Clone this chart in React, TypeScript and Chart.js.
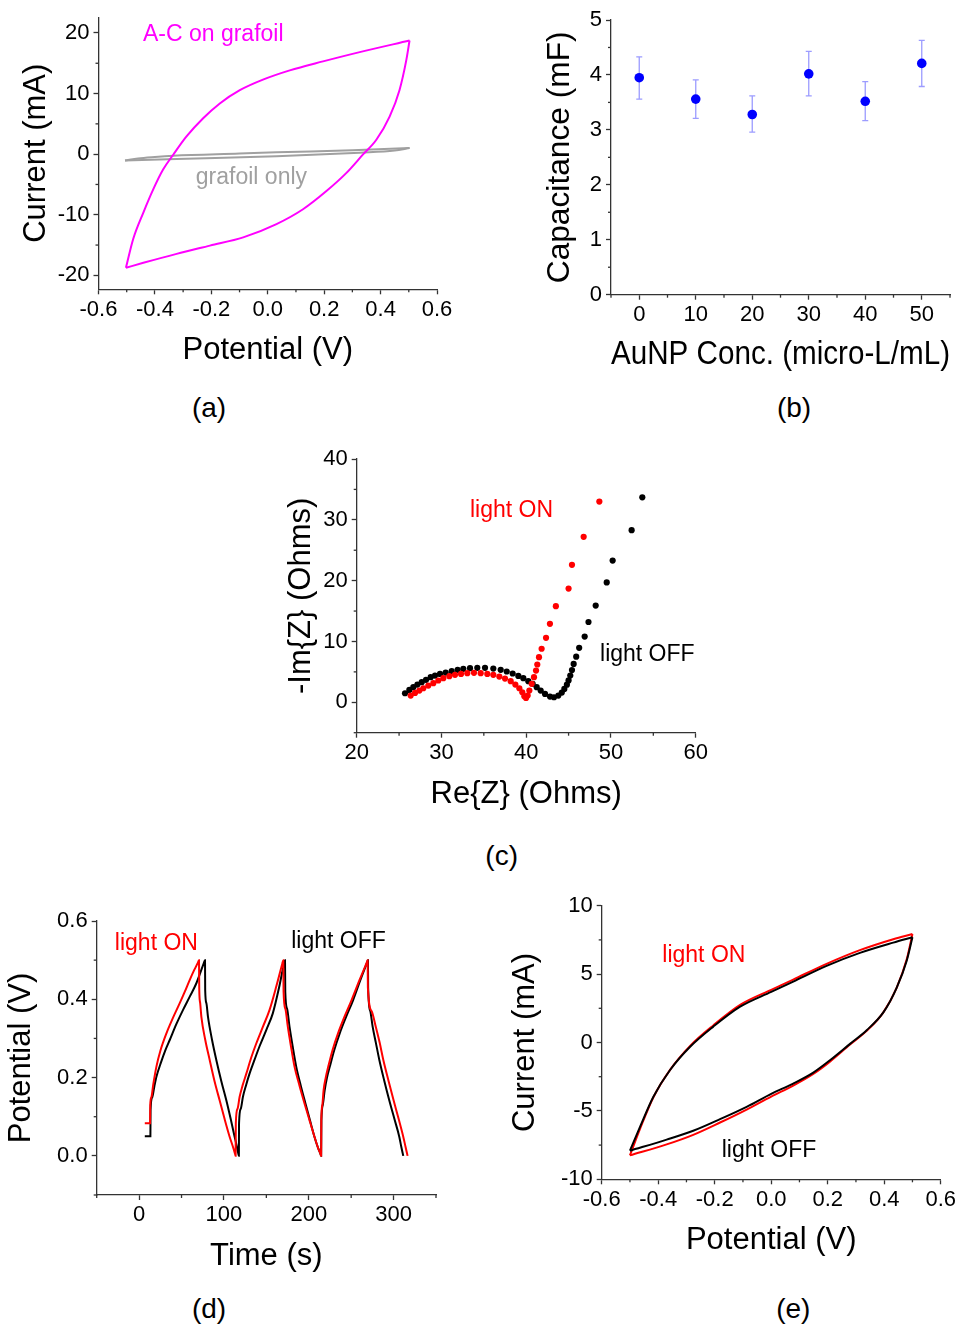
import React, { useEffect, useRef } from "react";
import { Chart, registerables } from "chart.js";
Chart.register(...registerables);

const FONT = "'Liberation Sans', Arial, Helvetica, sans-serif";

// ---------- Panel (a): CV, A-C on grafoil vs grafoil only ----------
const A_AC_UP_V = [-0.5027, -0.477, -0.441, -0.406, -0.371, -0.335, -0.288, -0.229, -0.17, -0.099, -0.017, 0.078, 0.196, 0.326, 0.5027];
const A_AC_UP_I = [-18.75, -14.0, -9.64, -5.81, -2.54, -0.09, 2.92, 5.92, 8.37, 10.56, 12.3, 13.83, 15.31, 16.84, 18.75];
const A_AC_LO_V = [-0.5027, -0.441, -0.323, -0.205, -0.087, 0.031, 0.125, 0.208, 0.279, 0.337, 0.385, 0.432, 0.467, 0.491, 0.5027];
const A_AC_LO_I = [-18.75, -17.93, -16.45, -15.09, -13.73, -11.54, -9.09, -6.09, -3.09, -0.09, 2.38, 6.19, 10.56, 15.47, 18.75];
const A_GF_UP_V = [-0.506, -0.46, -0.4, -0.335, -0.1, 0.031, 0.3, 0.5027];
const A_GF_UP_I = [-1.06, -0.7, -0.45, -0.25, 0.1, 0.3, 0.65, 1.0];
const A_GF_LO_V = [-0.506, -0.323, 0.031, 0.326, 0.45, 0.5027];
const A_GF_LO_I = [-1.06, -0.8, -0.35, 0.25, 0.6, 1.0];
const A_XTICKS = [-0.6, -0.4, -0.2, 0, 0.2, 0.4, 0.6];
const A_XMINOR = [-0.5, -0.3, -0.1, 0.1, 0.3, 0.5];
const A_YTICKS = [-20, -10, 0, 10, 20];
const A_YMINOR = [-15, -5, 5, 15];

// ---------- Panel (b): capacitance vs AuNP concentration ----------
const B_CONC = [0, 10, 20, 30, 40, 50];
const B_CAP = [3.95, 3.56, 3.28, 4.02, 3.52, 4.21];
const B_ERR_LOW = [3.56, 3.21, 2.96, 3.62, 3.17, 3.79];
const B_ERR_HIGH = [4.33, 3.91, 3.62, 4.43, 3.88, 4.63];
const B_XTICKS = [0, 10, 20, 30, 40, 50];
const B_XMINOR = [-5, 5, 15, 25, 35, 45, 55];
const B_YTICKS = [0, 1, 2, 3, 4, 5];
const B_YMINOR = [0.5, 1.5, 2.5, 3.5, 4.5];

// ---------- Panel (c): Nyquist ----------
const C_ON_RE = [26.37, 26.88, 27.39, 27.86, 28.45, 29.04, 29.63, 30.22, 30.93, 31.6, 32.31, 33.05, 33.84, 34.63, 35.41, 36.12,
  36.83, 37.5, 38.17, 38.72, 39.19, 39.54, 39.78, 39.98, 40.17, 40.37, 40.65, 40.92, 41.16, 41.31, 41.51, 41.82, 42.34, 42.8,
  43.5, 45.0, 45.4, 46.78, 48.63];
const C_ON_IM = [1.1, 1.54, 1.93, 2.31, 2.75, 3.14, 3.58, 3.96, 4.29, 4.51, 4.67, 4.78, 4.84, 4.78, 4.67, 4.51,
  4.23, 3.9, 3.47, 2.92, 2.31, 1.65, 0.99, 0.72, 1.1, 1.93, 3.03, 4.13, 5.22, 6.21, 7.42, 8.8, 10.6, 12.9,
  15.8, 18.7, 22.6, 27.2, 33.0];
const C_OFF_RE = [25.7, 26.21, 26.68, 27.16, 27.67, 28.18, 28.73, 29.24, 29.83, 30.5, 31.21, 31.91, 32.58, 33.37, 34.23, 35.14,
  36.12, 36.99, 37.7, 38.4, 39.07, 39.66, 40.25, 40.76, 41.24, 41.71, 42.22, 42.81, 43.28, 43.79, 44.2, 44.5, 44.8, 45.0,
  45.2, 45.4, 45.6, 45.9, 46.25, 46.9, 47.35, 48.2, 49.5, 50.2, 52.44, 53.7];
const C_OFF_IM = [1.49, 2.04, 2.48, 2.92, 3.3, 3.69, 4.13, 4.4, 4.67, 4.89, 5.11, 5.33, 5.5, 5.61, 5.66, 5.66,
  5.55, 5.33, 5.06, 4.73, 4.34, 3.96, 3.47, 3.03, 2.48, 1.93, 1.38, 0.94, 0.83, 1.1, 1.6, 2.2, 2.9, 3.6,
  4.4, 5.3, 6.3, 7.5, 8.96, 10.8, 13.2, 15.9, 19.7, 23.3, 28.3, 33.7];
const C_XTICKS = [20, 30, 40, 50, 60];
const C_XMINOR = [25, 35, 45, 55];
const C_YTICKS = [0, 10, 20, 30, 40];
const C_YMINOR = [-5, 5, 15, 25, 35];

// ---------- Panel (d): galvanostatic charge/discharge ----------
const D_ON_T = [6.7, 12.9, 13.1, 14.5, 16.5, 20.4, 25, 32.2, 40, 47.9, 54, 59.6, 65, 69.2, 70.6,
  70.9, 72, 73.4, 78, 83.2, 89, 94.9, 100.8, 106.7, 110.5, 113.0, 113.8,
  114.0, 116, 118.5, 122, 126.4, 132, 138.1, 146, 153.8, 162, 168.8, 170,
  170.3, 172.5, 175.3, 179, 183.2, 189, 195, 201, 206.7, 211, 213.8, 214.6,
  214.8, 216, 217.5, 220, 223, 228, 234.5, 242, 250.5, 260, 268.2, 269.4,
  269.7, 274, 279, 283.5, 287.9, 294, 300, 306, 311.4, 314, 316.5];
const D_ON_V = [0.083, 0.083, 0.13, 0.15, 0.18, 0.228, 0.268, 0.313, 0.353, 0.39, 0.42, 0.449, 0.475, 0.493, 0.5,
  0.425, 0.39, 0.355, 0.296, 0.245, 0.19, 0.142, 0.094, 0.049, 0.024, 0.006, 0.0,
  0.083, 0.12, 0.151, 0.18, 0.21, 0.25, 0.287, 0.33, 0.373, 0.435, 0.491, 0.5,
  0.42, 0.375, 0.33, 0.28, 0.228, 0.18, 0.134, 0.09, 0.049, 0.02, 0.005, 0.0,
  0.09, 0.13, 0.168, 0.2, 0.228, 0.27, 0.313, 0.355, 0.398, 0.45, 0.493, 0.5,
  0.43, 0.37, 0.33, 0.29, 0.245, 0.192, 0.142, 0.094, 0.049, 0.024, 0.0];
const D_OFF_T = [6.7, 13.3, 13.5, 15.5, 18, 20.4, 26, 31, 36.1, 44, 51.8, 60, 67.5, 76.4, 77.7,
  77.9, 79.3, 81.2, 86, 91, 97, 102.8, 108, 112.6, 115.2, 116.9, 117.6,
  117.8, 119.8, 122.4, 126, 130.2, 136, 142, 150, 157.6, 165, 170.8, 172,
  172.3, 174.5, 177.3, 181, 185.2, 190.5, 196.1, 201.5, 206.7, 211, 213.8, 214.6,
  214.9, 216.5, 218.8, 221.5, 224.8, 230, 236.5, 244, 252.3, 261, 268.6, 269.8,
  270.0, 272.5, 275.3, 279, 283.2, 289, 294.9, 301, 306.7, 309, 311.4];
const D_OFF_V = [0.05, 0.05, 0.117, 0.15, 0.178, 0.202, 0.24, 0.27, 0.296, 0.337, 0.373, 0.408, 0.441, 0.493, 0.5,
  0.423, 0.39, 0.355, 0.296, 0.245, 0.19, 0.142, 0.094, 0.049, 0.024, 0.006, 0.0,
  0.083, 0.12, 0.151, 0.18, 0.21, 0.245, 0.28, 0.322, 0.364, 0.43, 0.491, 0.5,
  0.42, 0.375, 0.33, 0.28, 0.228, 0.18, 0.134, 0.09, 0.049, 0.02, 0.005, 0.0,
  0.09, 0.13, 0.168, 0.2, 0.228, 0.27, 0.313, 0.355, 0.398, 0.45, 0.493, 0.5,
  0.43, 0.37, 0.33, 0.29, 0.245, 0.192, 0.142, 0.094, 0.049, 0.024, 0.0];
const D_XTICKS = [0, 100, 200, 300];
const D_XMINOR = [-50, 50, 150, 250, 350];
const D_YTICKS = [0, 0.2, 0.4, 0.6];
const D_YMINOR = [-0.1, 0.1, 0.3, 0.5];

// ---------- Panel (e): CV light ON / OFF (anodic = upper, cathodic = lower branch) ----------
const E_OFF_UP_V = [-0.5, -0.464, -0.417, -0.358, -0.287, -0.205, -0.11, 0.0, 0.078, 0.196, 0.314, 0.432, 0.5];
const E_OFF_UP_I = [-7.91, -6.15, -3.96, -2.01, -0.31, 1.16, 2.62, 3.7, 4.45, 5.6, 6.55, 7.3, 7.69];
const E_OFF_LO_V = [-0.5, -0.37, -0.276, -0.181, -0.087, 0.0, 0.078, 0.149, 0.208, 0.279, 0.338, 0.397, 0.444, 0.48, 0.5];
const E_OFF_LO_I = [-7.91, -7.1, -6.45, -5.6, -4.7, -3.75, -3.0, -2.2, -1.3, -0.1, 0.9, 2.2, 4.0, 6.0, 7.69];
const E_ON_UP_V = [-0.5, -0.464, -0.417, -0.358, -0.287, -0.205, -0.11, 0.0, 0.078, 0.196, 0.314, 0.432, 0.5];
const E_ON_UP_I = [-8.25, -6.3, -4.0, -2.0, -0.25, 1.25, 2.75, 3.85, 4.6, 5.75, 6.75, 7.55, 7.93];
const E_ON_LO_V = [-0.5, -0.37, -0.276, -0.181, -0.087, 0.0, 0.078, 0.149, 0.208, 0.279, 0.338, 0.397, 0.444, 0.48, 0.5];
const E_ON_LO_I = [-8.25, -7.45, -6.75, -5.85, -4.9, -3.95, -3.15, -2.3, -1.4, -0.15, 0.85, 2.2, 4.0, 6.1, 7.93];
const E_XTICKS = [-0.6, -0.4, -0.2, 0, 0.2, 0.4, 0.6];
const E_XMINOR = [-0.5, -0.3, -0.1, 0.1, 0.3, 0.5];
const E_YTICKS = [-10, -5, 0, 5, 10];
const E_YMINOR = [-7.5, -2.5, 2.5, 7.5];

// ---------- helpers ----------
const pts = (xs: number[], ys: number[]) => xs.map((x, i) => ({ x, y: ys[i] }));

type AxisSpec = { min: number; max: number; ticks: number[]; dec: number; title: string; size: number; pad: number; tsize?: number };

function axis(s: AxisSpec, isX: boolean): any {
  return {
    type: "linear",
    position: isX ? "bottom" : "left",
    min: s.min,
    max: s.max,
    afterBuildTicks: (sc: any) => {
      sc.ticks = s.ticks.map((v) => ({ value: v }));
    },
    afterFit: (sc: any) => {
      if (isX) sc.height = s.size;
      else sc.width = s.size;
    },
    ticks: {
      autoSkip: false,
      maxRotation: 0,
      minRotation: 0,
      padding: isX ? 2 : 4,
      color: "#000",
      font: { family: FONT, size: 22 },
      callback: (v: any) => Number(v).toFixed(s.dec),
    },
    grid: { drawOnChartArea: false, drawTicks: true, tickLength: 5, tickColor: "#333", tickWidth: 1.3, color: "#333" },
    border: { display: true, color: "#333", width: 1.3 },
    title: {
      display: true,
      text: s.title,
      color: "#000",
      font: { family: FONT, size: s.tsize ?? 31, lineHeight: 1.2 },
      padding: isX ? { top: 0, bottom: s.pad } : { top: s.pad, bottom: 0 },
    },
  };
}

function minorTicks(xs: number[], ys: number[]) {
  return {
    id: "minorTicks",
    afterDraw(chart: any) {
      const { ctx, chartArea } = chart;
      const sx = chart.scales.x;
      const sy = chart.scales.y;
      ctx.save();
      ctx.strokeStyle = "#333";
      ctx.lineWidth = 1.3;
      xs.forEach((v) => {
        const p = sx.getPixelForValue(v);
        ctx.beginPath();
        ctx.moveTo(p, chartArea.bottom);
        ctx.lineTo(p, chartArea.bottom + 3);
        ctx.stroke();
      });
      ys.forEach((v) => {
        const p = sy.getPixelForValue(v);
        ctx.beginPath();
        ctx.moveTo(chartArea.left, p);
        ctx.lineTo(chartArea.left - 3, p);
        ctx.stroke();
      });
      ctx.restore();
    },
  };
}

type Note = { text: string; x: number; y: number; color: string };
function notes(items: Note[]) {
  return {
    id: "notes",
    afterDatasetsDraw(chart: any) {
      const { ctx } = chart;
      ctx.save();
      ctx.font = `23px ${FONT}`;
      ctx.textAlign = "left";
      ctx.textBaseline = "alphabetic";
      items.forEach((it) => {
        ctx.fillStyle = it.color;
        ctx.fillText(it.text, chart.scales.x.getPixelForValue(it.x), chart.scales.y.getPixelForValue(it.y));
      });
      ctx.restore();
    },
  };
}

function errorBars(xs: number[], lo: number[], hi: number[]) {
  return {
    id: "errorBars",
    beforeDatasetsDraw(chart: any) {
      const { ctx } = chart;
      const sx = chart.scales.x;
      const sy = chart.scales.y;
      ctx.save();
      ctx.strokeStyle = "rgba(90,90,255,0.6)";
      ctx.lineWidth = 1.3;
      xs.forEach((xv, i) => {
        const px = sx.getPixelForValue(xv);
        const p1 = sy.getPixelForValue(lo[i]);
        const p2 = sy.getPixelForValue(hi[i]);
        ctx.beginPath();
        ctx.moveTo(px, p1);
        ctx.lineTo(px, p2);
        ctx.moveTo(px - 3, p1);
        ctx.lineTo(px + 3, p1);
        ctx.moveTo(px - 3, p2);
        ctx.lineTo(px + 3, p2);
        ctx.stroke();
      });
      ctx.restore();
    },
  };
}

const lineDs = (data: any[], color: string) => ({
  data,
  showLine: true,
  borderColor: color,
  backgroundColor: color,
  borderWidth: 2,
  pointRadius: 0,
  pointHoverRadius: 0,
  cubicInterpolationMode: "monotone",
  fill: false,
});

const dotDs = (data: any[], color: string, r: number) => ({
  data,
  showLine: false,
  backgroundColor: color,
  borderColor: color,
  borderWidth: 0,
  pointRadius: r,
  pointHoverRadius: r,
});

function baseOptions(padding: any, x: any, y: any): any {
  return {
    animation: false,
    responsive: false,
    maintainAspectRatio: false,
    layout: { padding },
    plugins: { legend: { display: false }, tooltip: { enabled: false } },
    events: [],
    scales: { x, y },
  };
}

// ---------- configs ----------
const buildA = (): any => ({
  type: "scatter",
  data: {
    datasets: [
      lineDs(pts(A_AC_UP_V, A_AC_UP_I), "#ff00ff"),
      lineDs(pts(A_AC_LO_V, A_AC_LO_I), "#ff00ff"),
      lineDs(pts(A_GF_UP_V, A_GF_UP_I), "#a0a0a0"),
      lineDs(pts(A_GF_LO_V, A_GF_LO_I), "#a0a0a0"),
    ],
  },
  options: baseOptions(
    { left: 0, right: 43, top: 15, bottom: 0 },
    axis({ min: -0.6, max: 0.6, ticks: A_XTICKS, dec: 1, title: "Potential (V)", size: 90.7, pad: 10.6 }, true),
    axis({ min: -22.3, max: 22.6, ticks: A_YTICKS, dec: 0, title: "Current (mA)", size: 98.5, pad: 17.9 }, false)
  ),
  plugins: [
    minorTicks(A_XMINOR, A_YMINOR),
    notes([
      { text: "A-C on grafoil", x: -0.4425, y: 18.75, color: "#ff00ff" },
      { text: "grafoil only", x: -0.255, y: -4.89, color: "#a0a0a0" },
    ]),
  ],
});

const buildB = (): any => ({
  type: "scatter",
  data: { datasets: [dotDs(pts(B_CONC, B_CAP), "#0000ff", 4.8)] },
  options: baseOptions(
    { left: 0, right: 10, top: 20, bottom: 0 },
    axis({ min: -5, max: 55, ticks: B_XTICKS, dec: 0, title: "AuNP Conc. (micro-L/mL)", size: 85.3, pad: 5.4, tsize: 32.7 }, true),
    axis({ min: 0, max: 5, ticks: B_YTICKS, dec: 0, title: "Capacitance (mF)", size: 131, pad: 61.4, tsize: 31.7 }, false)
  ),
  plugins: [minorTicks(B_XMINOR, B_YMINOR), errorBars(B_CONC, B_ERR_LOW, B_ERR_HIGH)],
});

const buildC = (): any => ({
  type: "scatter",
  data: {
    datasets: [dotDs(pts(C_ON_RE, C_ON_IM), "#ff0000", 3.1), dotDs(pts(C_OFF_RE, C_OFF_IM), "#000000", 3.1)],
  },
  options: baseOptions(
    { left: 0, right: 44.3, top: 19, bottom: 0 },
    axis({ min: 20, max: 60, ticks: C_XTICKS, dec: 0, title: "Re{Z} (Ohms)", size: 87.3, pad: 7.4 }, true),
    axis({ min: -5, max: 40, ticks: C_YTICKS, dec: 0, title: "-Im{Z} (Ohms)", size: 116.7, pad: 42.7 }, false)
  ),
  plugins: [
    minorTicks(C_XMINOR, C_YMINOR),
    notes([
      { text: "light ON", x: 33.37, y: 30.48, color: "#ff0000" },
      { text: "light OFF", x: 48.71, y: 6.87, color: "#000000" },
    ]),
  ],
});

const buildD = (): any => ({
  type: "scatter",
  data: {
    datasets: [lineDs(pts(D_ON_T, D_ON_V), "#ff0000"), lineDs(pts(D_OFF_T, D_OFF_V), "#000000")],
  },
  options: baseOptions(
    { left: 0, right: 44, top: 31, bottom: 0 },
    axis({ min: -50, max: 350, ticks: D_XTICKS, dec: 0, title: "Time (s)", size: 85, pad: 4.7 }, true),
    axis({ min: -0.1, max: 0.6, ticks: D_YTICKS, dec: 1, title: "Potential (V)", size: 96.7, pad: 3.1 }, false)
  ),
  plugins: [
    minorTicks(D_XMINOR, D_YMINOR),
    notes([
      { text: "light ON", x: -28.6, y: 0.526, color: "#ff0000" },
      { text: "light OFF", x: 179.3, y: 0.53, color: "#000000" },
    ]),
  ],
});

const buildE = (): any => ({
  type: "scatter",
  data: {
    datasets: [
      lineDs(pts(E_OFF_UP_V, E_OFF_UP_I), "#000000"),
      lineDs(pts(E_OFF_LO_V, E_OFF_LO_I), "#000000"),
      lineDs(pts(E_ON_UP_V, E_ON_UP_I), "#ff0000"),
      lineDs(pts(E_ON_LO_V, E_ON_LO_I), "#ff0000"),
    ],
  },
  options: baseOptions(
    { left: 0, right: 19.3, top: 25.7, bottom: 0 },
    axis({ min: -0.6, max: 0.6, ticks: E_XTICKS, dec: 1, title: "Potential (V)", size: 90.7, pad: 10.6 }, true),
    axis({ min: -10, max: 10, ticks: E_YTICKS, dec: 0, title: "Current (mA)", size: 121.7, pad: 27.2 }, false)
  ),
  plugins: [
    minorTicks(E_XMINOR, E_YMINOR),
    notes([
      { text: "light ON", x: -0.3855, y: 5.91, color: "#ff0000" },
      { text: "light OFF", x: -0.175, y: -8.35, color: "#000000" },
    ]),
  ],
});

function ChartPanel(props: { left: number; top: number; width: number; height: number; build: () => any }) {
  const ref = useRef<HTMLCanvasElement | null>(null);
  useEffect(() => {
    const chart = new Chart(ref.current as HTMLCanvasElement, props.build());
    return () => chart.destroy();
  }, []);
  return (
    <canvas
      ref={ref}
      width={props.width}
      height={props.height}
      style={{ position: "absolute", left: props.left, top: props.top, width: props.width, height: props.height }}
    />
  );
}

function PanelLabel(props: { text: string; cx: number; cy: number }) {
  return (
    <div
      style={{
        position: "absolute",
        left: props.cx,
        top: props.cy - 2.4,
        transform: "translate(-50%, -50%)",
        fontFamily: FONT,
        fontSize: 28,
        lineHeight: 1,
        color: "#000",
        whiteSpace: "nowrap",
      }}
    >
      {props.text}
    </div>
  );
}

export default function App() {
  return (
    <div style={{ position: "absolute", left: 0, top: 0, width: 960, height: 1325, background: "#fff", overflow: "hidden" }}>
      <ChartPanel left={0} top={0} width={480} height={380} build={buildA} />
      <ChartPanel left={480} top={0} width={480} height={380} build={buildB} />
      <ChartPanel left={240} top={440} width={500} height={380} build={buildC} />
      <ChartPanel left={0} top={890} width={480} height={390} build={buildD} />
      <ChartPanel left={480} top={880} width={480} height={390} build={buildE} />
      <PanelLabel text="(a)" cx={209} cy={410} />
      <PanelLabel text="(b)" cx={794} cy={410} />
      <PanelLabel text="(c)" cx={501.7} cy={858} />
      <PanelLabel text="(d)" cx={209} cy={1311.7} />
      <PanelLabel text="(e)" cx={793.3} cy={1311.7} />
    </div>
  );
}
